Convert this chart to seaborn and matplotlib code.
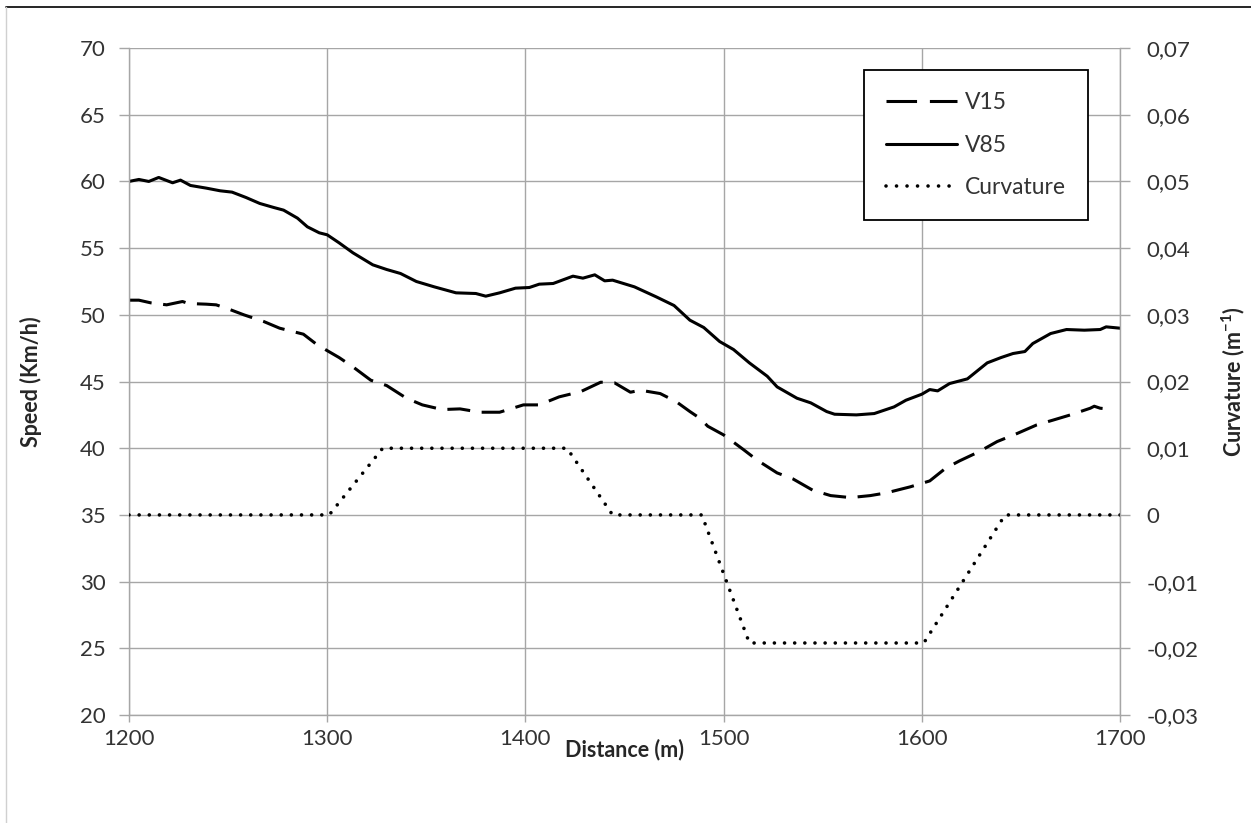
import matplotlib
matplotlib.use("Agg")
import matplotlib.pyplot as plt
import matplotlib.ticker as mticker
from matplotlib.lines import Line2D
import seaborn as sns

# ── Dados ────────────────────────────────────────────────────────────────────
dist_v85 = [1200, 1205, 1210, 1215, 1222, 1226, 1231, 1239, 1246, 1252, 1259,
            1266, 1273, 1278, 1285, 1290, 1296, 1300, 1306, 1313, 1323, 1330,
            1337, 1345, 1354, 1365, 1375, 1380, 1387, 1395, 1402, 1407, 1414,
            1424, 1429, 1435, 1440, 1444, 1455, 1466, 1475, 1483, 1490, 1498,
            1505, 1513, 1522, 1527, 1537, 1544, 1552, 1556, 1567, 1576, 1586,
            1592, 1600, 1604, 1608, 1614, 1623, 1633, 1640, 1646, 1652, 1656,
            1665, 1673, 1682, 1690, 1693, 1700]
v85 = [60.0, 60.15, 60.0, 60.3, 59.9, 60.1, 59.7, 59.5, 59.3, 59.2, 58.8,
       58.35, 58.05, 57.85, 57.25, 56.6, 56.15, 56.0, 55.4, 54.65, 53.75, 53.4,
       53.1, 52.5, 52.1, 51.65, 51.6, 51.4, 51.65, 52.0, 52.05, 52.3, 52.35,
       52.9, 52.75, 53.0, 52.55, 52.6, 52.1, 51.35, 50.7, 49.6, 49.05, 48.0,
       47.4, 46.4, 45.4, 44.6, 43.75, 43.4, 42.75, 42.55, 42.5, 42.6, 43.1,
       43.6, 44.05, 44.4, 44.3, 44.85, 45.2, 46.4, 46.8, 47.1, 47.25, 47.85,
       48.6, 48.9, 48.85, 48.9, 49.1, 49.0]

dist_v15 = [1200, 1205, 1211, 1219, 1227, 1230, 1239, 1244, 1250, 1258, 1268,
            1276, 1288, 1295, 1306, 1313, 1322, 1330, 1340, 1348, 1358, 1367,
            1377, 1387, 1399, 1407, 1417, 1428, 1438, 1445, 1453, 1458, 1468,
            1476, 1483, 1488, 1492, 1500, 1510, 1517, 1527, 1535, 1545, 1554,
            1564, 1574, 1582, 1594, 1604, 1612, 1619, 1629, 1638, 1648, 1658,
            1666, 1675, 1685, 1687, 1690, 1697]
v15 = [51.1, 51.1, 50.9, 50.75, 51.0, 50.85, 50.8, 50.75, 50.45, 50.0, 49.5,
       49.0, 48.55, 47.75, 46.8, 46.1, 45.1, 44.7, 43.75, 43.25, 42.9, 42.95,
       42.7, 42.7, 43.25, 43.25, 43.85, 44.25, 44.95, 44.9, 44.2, 44.35, 44.1,
       43.5, 42.75, 42.25, 41.65, 41.0, 39.9, 39.1, 38.15, 37.7, 36.85, 36.45,
       36.3, 36.45, 36.65, 37.1, 37.55, 38.5, 39.05, 39.75, 40.5, 41.1, 41.75,
       42.1, 42.5, 43.0, 43.15, 43.0, 42.9]

dist_curv = [1200, 1301, 1328, 1421, 1444, 1489, 1513, 1601, 1642, 1700]
curvature = [0, 0, 0.01, 0.01, 0, 0, -0.0192, -0.0192, 0, 0]

x_ticks = [1200, 1300, 1400, 1500, 1600, 1700]
speed_ticks = [20, 25, 30, 35, 40, 45, 50, 55, 60, 65, 70]
curv_ticks = [-0.03, -0.02, -0.01, 0, 0.01, 0.02, 0.03, 0.04, 0.05, 0.06, 0.07]

# ── Estilo ───────────────────────────────────────────────────────────────────
sns.set_theme(style="white")
plt.rcParams["font.family"] = ["Lato", "DejaVu Sans"]
plt.rcParams["mathtext.default"] = "regular"

GRID = "#a6a6a6"
TXT = "#333333"
DASH = (0, (7.5, 3.8))
DOT = (0, (0.01, 2.8))

fig = plt.figure(figsize=(12.51, 8.23), dpi=100)
ax = fig.add_axes([0.1031, 0.1312, 0.7922, 0.8104])

sns.lineplot(x=dist_v15, y=v15, ax=ax, color="black", lw=2.2,
             linestyle=DASH, label="V15")
sns.lineplot(x=dist_v85, y=v85, ax=ax, color="black", lw=2.2, label="V85")

ax2 = ax.twinx()
sns.lineplot(x=dist_curv, y=curvature, ax=ax2, color="black", lw=2.6,
             linestyle=DOT, dash_capstyle="round", label="Curvature")

for a in (ax, ax2):
    if a.get_legend() is not None:
        a.get_legend().remove()

ax.set_xlim(1200, 1700)
ax.set_ylim(20, 70)
ax2.set_ylim(-0.03, 0.07)
ax.set_xticks(x_ticks)
ax.set_yticks(speed_ticks)
ax2.set_yticks(curv_ticks)

ax2.yaxis.set_major_formatter(mticker.FuncFormatter(
    lambda v, _: "0" if abs(v) < 1e-9 else f"{v:.2f}".replace(".", ",")))

ax.grid(True, color=GRID, lw=1.0)
ax.set_axisbelow(True)

for a in (ax, ax2):
    for s in a.spines.values():
        s.set_visible(False)
ax.spines["left"].set_visible(True)
ax.spines["bottom"].set_visible(True)
ax2.spines["right"].set_visible(True)
for s in (ax.spines["left"], ax.spines["bottom"], ax2.spines["right"]):
    s.set_color(GRID)
    s.set_linewidth(1.0)

ax.tick_params(axis="y", direction="out", length=7, width=1, color=GRID,
               labelsize=16, labelcolor=TXT, pad=10, left=True)
ax.tick_params(axis="x", direction="out", length=5, width=1, color=GRID,
               labelsize=16, labelcolor=TXT, pad=5, bottom=True)
ax2.tick_params(axis="y", direction="out", length=7, width=1, color=GRID,
                labelsize=16, labelcolor=TXT, pad=12, right=True)

ax.set_xlabel("Distance (m)", fontsize=15.5, fontweight="bold", color="#262626")
ax.set_ylabel("Speed (Km/h)", fontsize=15.5, fontweight="bold", color="#262626")
ax2.set_ylabel(r"Curvature (m$^{-1}$)", fontsize=15.5, fontweight="bold",
               color="#262626")
ax.xaxis.set_label_coords(0.4995, -0.036)
ax.yaxis.set_label_coords(-0.088, 0.5)
ax2.yaxis.set_label_coords(1.100, 0.5)

# ── Legenda ──────────────────────────────────────────────────────────────────
handles = [
    Line2D([], [], color="black", lw=2.2, linestyle=(0, (10, 4.2))),
    Line2D([], [], color="black", lw=2.2),
    Line2D([], [], color="black", lw=2.6, linestyle=(0, (0.01, 2.9)),
           dash_capstyle="round"),
]
leg = ax2.legend(handles, ["V15", "V85", "Curvature"], loc="upper left",
                 bbox_to_anchor=(0.7417, 0.967), borderaxespad=0,
                 fontsize=16.5, frameon=True, fancybox=False, framealpha=1,
                 edgecolor="black", handlelength=3.1, handletextpad=0.35,
                 labelspacing=0.95, borderpad=0.95)
leg.get_frame().set_linewidth(1.3)
for t in leg.get_texts():
    t.set_color(TXT)

# moldura externa (área do gráfico)
fig.add_artist(Line2D([6 / 1251, 1], [1 - 6.5 / 823, 1 - 6.5 / 823],
                      transform=fig.transFigure, color="black", lw=1.2))
fig.add_artist(Line2D([6 / 1251, 6 / 1251], [0, 1 - 6.5 / 823],
                      transform=fig.transFigure, color="#d0d0d0", lw=1.0))

fig.savefig("out.png", dpi=100)
plt.close(fig)
